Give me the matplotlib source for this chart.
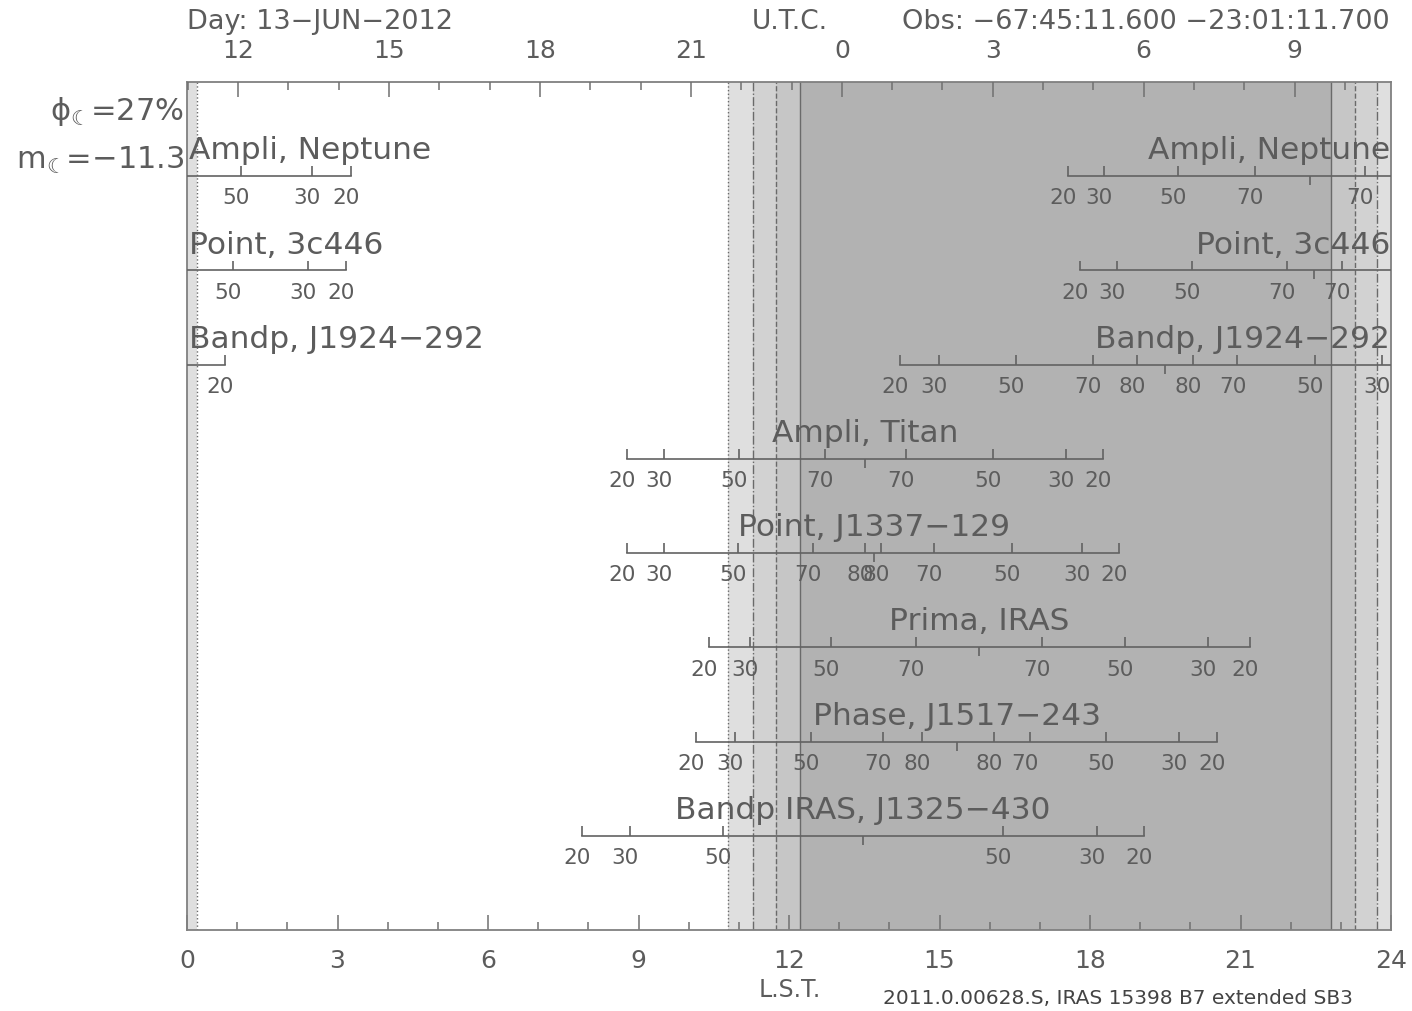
import matplotlib
matplotlib.use('Agg')
import matplotlib.pyplot as plt
import numpy as np

plt.rcParams['font.family'] = ['DejaVu Sans']
plt.rcParams['mathtext.fontset'] = 'dejavusans'

# sources, top to bottom
source_names = ["Ampli, Neptune", "Point, 3c446", "Bandp, J1924\u2212292",
                "Ampli, Titan", "Point, J1337\u2212129", "Prima, IRAS",
                "Phase, J1517\u2212243", "Bandp IRAS, J1325\u2212430"]

# LST (hours) of elevation ticks along each track
tick_lst = [
    [17.56, 18.28, 19.75, 21.29, 23.48, 1.08, 2.49, 3.27],
    [17.80, 18.54, 20.03, 21.93, 23.02, 0.92, 2.41, 3.17],
    [14.21, 14.99, 16.52, 18.06, 18.94, 20.06, 20.94, 22.48, 23.82, 0.76],
    [8.77, 9.51, 11.00, 12.72, 14.33, 16.07, 17.52, 18.26],
    [8.77, 9.51, 10.98, 12.48, 13.52, 13.83, 14.89, 16.45, 17.84, 18.58],
    [10.41, 11.22, 12.84, 14.53, 17.04, 18.70, 20.35, 21.19],
    [10.15, 10.92, 12.44, 13.87, 14.65, 16.09, 16.80, 18.32, 19.77, 20.53],
    [7.87, 8.83, 10.68, 16.27, 18.14, 19.08],
]
tick_el = [
    [20, 30, 50, 70, 70, 50, 30, 20],
    [20, 30, 50, 70, 70, 50, 30, 20],
    [20, 30, 50, 70, 80, 80, 70, 50, 30, 20],
    [20, 30, 50, 70, 70, 50, 30, 20],
    [20, 30, 50, 70, 80, 80, 70, 50, 30, 20],
    [20, 30, 50, 70, 70, 50, 30, 20],
    [20, 30, 50, 70, 80, 80, 70, 50, 30, 20],
    [20, 30, 50, 50, 30, 20],
]
transit_lst = [22.39, 22.46, 19.50, 13.52, 13.69, 15.79, 15.35, 13.48]

# sun: sunset, civil, nautical, astro end / astro, nautical, civil start, sunrise
sun_times = [10.78, 11.28, 11.74, 12.22, 22.80, 23.28, 23.72, 24.20]
sun_styles = [':', '-.', '--', '-', '-', '--', '-.', ':']
shade_colors = ['#dfdfdf', '#d2d2d2', '#c6c6c6', '#b2b2b2', '#c6c6c6', '#d2d2d2', '#dfdfdf']

# top axis: UTC
utc_major = [12, 15, 18, 21, 0, 3, 6, 9]
lst_at_utc12 = 1.02
sidereal_rate = 1.00274

lst_major = [0, 3, 6, 9, 12, 15, 18, 21, 24]

txt = '#5c5c5c'
linec = '#626262'

fig = plt.figure(figsize=(14.12, 10.11), dpi=100)
ax = fig.add_axes([187/1412, 81/1011, (1391-187)/1412, (930-82)/1011])
ax.set_xlim(0, 24)
ax.set_ylim(9, 0)

# twilight shading
for k in range(len(sun_times) - 1):
    a, b = sun_times[k], sun_times[k+1]
    if b > 24:
        ax.axvspan(a, 24, color=shade_colors[k], lw=0, zorder=0)
        ax.axvspan(0, b - 24, color=shade_colors[k], lw=0, zorder=0)
    else:
        ax.axvspan(a, b, color=shade_colors[k], lw=0, zorder=0)
for t, ls in zip(sun_times, sun_styles):
    ax.axvline(t % 24, color='#6a6a6a', lw=1.0, ls=ls, zorder=1)

# tracks
up = 0.105
down = 0.095
name_fs = 22.5
for i, name in enumerate(source_names):
    y = i + 1
    lsts = tick_lst[i]
    start, end = lsts[0], lsts[-1]
    if end > start:
        ax.plot([start, end], [y, y], color=linec, lw=1.2, zorder=3)
        ax.annotate(name, (transit_lst[i], y), xytext=(0, 12.2), textcoords='offset points',
                    ha='center', va='baseline', fontsize=name_fs, color=txt, zorder=4,
                    annotation_clip=False)
    else:
        ax.plot([start, 24], [y, y], color=linec, lw=1.2, zorder=3)
        ax.plot([0, end], [y, y], color=linec, lw=1.2, zorder=3)
        ax.annotate(name, (0, y), xytext=(1.5, 12.2), textcoords='offset points',
                    ha='left', va='baseline', fontsize=name_fs, color=txt, zorder=4,
                    annotation_clip=False)
        ax.annotate(name, (24, y), xytext=(-0.5, 12.2), textcoords='offset points',
                    ha='right', va='baseline', fontsize=name_fs, color=txt, zorder=4,
                    annotation_clip=False)
    ax.vlines(lsts, y - up, y, color=linec, lw=1.2, zorder=3)
    ax.vlines(transit_lst[i], y, y + down, color=linec, lw=1.2, zorder=3)
    for x, el in zip(lsts, tick_el[i]):
        ax.annotate(str(el), (x, y), xytext=(-3.5, -16), textcoords='offset points',
                    ha='center', va='center', fontsize=15.5, color=txt, zorder=4,
                    annotation_clip=False)

# axes styling
for s in ax.spines.values():
    s.set_color('#808080')
    s.set_linewidth(1.3)
ax.set_yticks([])
ax.set_xticks(lst_major)
ax.set_xticklabels([str(v) for v in lst_major])
ax.set_xticks(np.arange(0, 25, 1), minor=True)
ax.tick_params(axis='x', which='major', direction='in', length=10.5, width=1.1,
               color='#707070', labelsize=18, labelcolor=txt, pad=14)
ax.tick_params(axis='x', which='minor', direction='in', length=5.8, width=1.1,
               color='#707070')

ax2 = ax.twiny()
ax2.set_xlim(0, 24)
top_pos = [lst_at_utc12 + ((u - 12) % 24) * sidereal_rate for u in utc_major]
ax2.set_xticks(top_pos)
ax2.set_xticklabels([str(u) for u in utc_major])
minor_utc = np.arange(-1, 23)
ax2.set_xticks([lst_at_utc12 + d * sidereal_rate for d in minor_utc
                if 0 <= lst_at_utc12 + d * sidereal_rate <= 24], minor=True)
ax2.tick_params(axis='x', which='major', direction='in', length=10.5, width=1.1,
                color='#707070', labelsize=18, labelcolor=txt, pad=14)
ax2.tick_params(axis='x', which='minor', direction='in', length=5.8, width=1.1,
                color='#707070')
for s in ax2.spines.values():
    s.set_visible(False)
ax2.set_yticks([])

W, H = 1412, 1011
fig.text(187/W, 1 - 22/H, "Day: 13\u2212JUN\u22122012", ha='left', va='center', fontsize=19.5, color=txt)
fig.text(790/W, 1 - 22/H, "U.T.C.", ha='center', va='center', fontsize=19, color=txt)
fig.text(1390/W, 1 - 22/H, "Obs: \u221267:45:11.600 \u221223:01:11.700", ha='right', va='center',
         fontsize=19.5, color=txt)
fig.text(184/W, 1 - 112/H, "$\\mathregular{\\phi_{☾}}$=27%", ha='right', va='center',
         fontsize=22, color=txt)
fig.text(185/W, 1 - 160/H, "$\\mathregular{m_{☾}}$=\u221211.3", ha='right', va='center',
         fontsize=22, color=txt)
fig.text(790/W, 1 - 990/H, "L.S.T.", ha='center', va='center', fontsize=17, color=txt)
fig.text(883/W, 1 - 998/H, "2011.0.00628.S, IRAS 15398 B7 extended SB3", ha='left', va='center',
         fontsize=14.5, color='#444444')

fig.savefig('out.png', dpi=100)
